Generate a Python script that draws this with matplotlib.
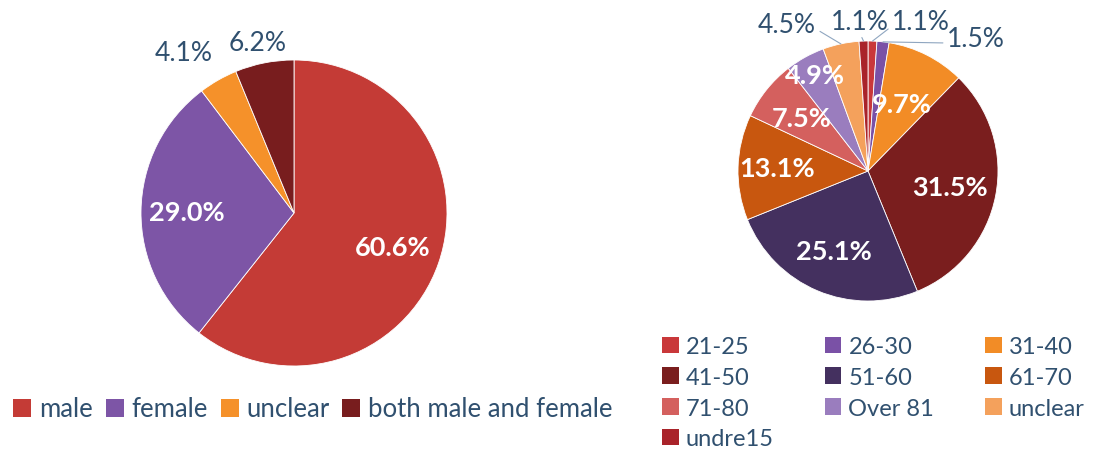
import matplotlib.pyplot as plt
import numpy as np
from matplotlib.patches import Patch

plt.rcParams['font.family'] = ['Lato', 'DejaVu Sans']

# data
gender_labels = ['male', 'female', 'unclear', 'both male and female']
gender_values = [60.6, 29.0, 4.1, 6.2]
gender_colors = ['#C43B36', '#7D55A6', '#F5912A', '#781D1E']

age_labels = ['21-25', '26-30', '31-40', '41-50', '51-60', '61-70',
              '71-80', 'Over 81', 'unclear', 'undre15']
age_values = [1.1, 1.5, 9.7, 31.5, 25.1, 13.1, 7.5, 4.9, 4.5, 1.1]
age_colors = ['#C9383A', '#7A51A6', '#F28C26', '#7A1E1E', '#44305F',
              '#C8570F', '#D4605E', '#9A7DBE', '#F4A15C', '#A9232A']

W, H = 1093, 456
txt_dark = '#30506F'
fs_in, fs_out, fs_leg, fs_leg2 = 19.5, 19, 18.5, 17

fig = plt.figure(figsize=(W / 100, H / 100), dpi=100)
ax = fig.add_axes([0, 0, 1, 1])

# left pie
c1, r1 = (294, H - 214), 153
w1, _ = ax.pie(gender_values, colors=gender_colors, startangle=90,
               counterclock=False, center=c1, radius=r1,
               wedgeprops=dict(linewidth=0.6, edgecolor='white'))

# right pie
c2, r2 = (868, H - 172), 130
w2, _ = ax.pie(age_values, colors=age_colors, startangle=90,
               counterclock=False, center=c2, radius=r2,
               wedgeprops=dict(linewidth=0.6, edgecolor='white'))


def mid_point(w, c, r, d):
    a = np.deg2rad((w.theta1 + w.theta2) / 2)
    return c[0] + r * d * np.cos(a), c[1] + r * d * np.sin(a)


# left labels
inside_dist1 = [0.68, 0.70]
for i in range(2):
    x, y = mid_point(w1[i], c1, r1, inside_dist1[i])
    ax.text(x, y, f'{gender_values[i]:.1f}%', color='white', fontsize=fs_in,
            fontweight='bold', ha='center', va='center')
outside_pos1 = {2: (184, 53), 3: (258, 43)}
for i, (px, py) in outside_pos1.items():
    ax.text(px, H - py, f'{gender_values[i]:.1f}%', color=txt_dark,
            fontsize=fs_out, ha='center', va='center')

# right labels
inside_dist2 = {2: 0.58, 3: 0.64, 4: 0.67, 5: 0.70, 6: 0.65, 7: 0.84}
for i, d in inside_dist2.items():
    x, y = mid_point(w2[i], c2, r2, d)
    ax.text(x, y, f'{age_values[i]:.1f}%', color='white', fontsize=fs_in,
            fontweight='bold', ha='center', va='center')

outside_pos2 = {8: (787, 25), 9: (860, 22), 0: (921, 22), 1: (976, 39)}
relpos = {8: (1.0, 0.3), 9: (0.5, 0.0), 0: (0.0, 0.3), 1: (0.0, 0.3)}
for i, (px, py) in outside_pos2.items():
    ex, ey = mid_point(w2[i], c2, r2, 1.0)
    ax.annotate(f'{age_values[i]:.1f}%', xy=(ex, ey), xytext=(px, H - py),
                color=txt_dark, fontsize=fs_out, ha='center', va='center',
                arrowprops=dict(arrowstyle='-', color='#8FA6C0', lw=0.8,
                                shrinkA=1, shrinkB=0, relpos=relpos[i]))

ax.set_xlim(0, W)
ax.set_ylim(0, H)
ax.axis('off')

# legends
h1 = [Patch(facecolor=c, label=l) for c, l in zip(gender_colors, gender_labels)]
fig.legend(handles=h1, loc='center', bbox_to_anchor=(313 / W, 1 - 410 / H),
           ncol=4, frameon=False, fontsize=fs_leg, handlelength=0.7,
           handleheight=0.7, handletextpad=0.3, columnspacing=0.5,
           labelcolor=txt_dark)

# row-major order for the 3-column legend
order = [0, 3, 6, 9, 1, 4, 7, 2, 5, 8]
h2 = [Patch(facecolor=age_colors[i], label=age_labels[i]) for i in order]
fig.legend(handles=h2, loc='upper left', bbox_to_anchor=(641 / W, 1 - 316 / H),
           ncol=3, frameon=False, fontsize=fs_leg2, handlelength=0.7,
           handleheight=0.7, handletextpad=0.3, columnspacing=2.16,
           labelspacing=0.41, labelcolor=txt_dark)

fig.savefig('out.png', dpi=100)
